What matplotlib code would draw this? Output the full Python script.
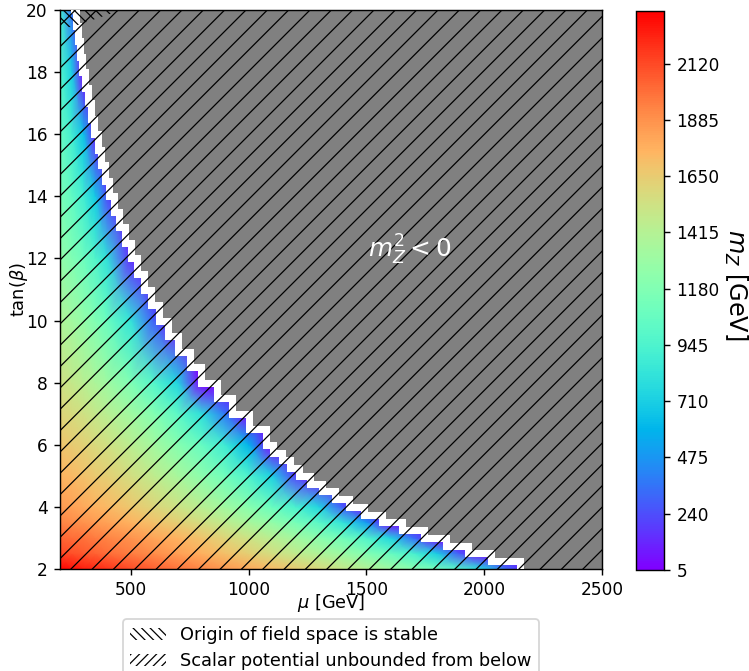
import numpy as np
import matplotlib
matplotlib.use('Agg')
import matplotlib.pyplot as plt
from matplotlib import cbook
from matplotlib.patches import Patch

plt.rcParams['hatch.linewidth'] = 0.7

# grid: mu columns [GeV], tan(beta) rows, m_Z values [GeV]
mu_cols = [200, 250, 300, 350, 400, 500, 600, 700, 800, 900, 1000, 1100,
           1200, 1300, 1400, 1500, 1600, 1700, 1800, 1900, 2000, 2100, 2200, 2500]
tanb_rows = [2, 2.5, 3, 3.5, 4, 5, 6, 7, 8, 10, 12, 14, 16, 18, 20]
mz = [
    [2330, 2290, 2255, 2220, 2190, 2120, 2055, 1990, 1925, 1860, 1795, 1725, 1655, 1580, 1500, 1415, 1320, 1215, 1095, 950, 740, 320, 5, 5],
    [2130, 2100, 2070, 2040, 2010, 1950, 1895, 1835, 1770, 1705, 1630, 1555, 1470, 1385, 1295, 1190, 1070, 920, 700, 260, 5, 5, 5, 5],
    [2030, 2010, 1985, 1960, 1930, 1880, 1820, 1760, 1690, 1610, 1525, 1435, 1335, 1225, 1105, 960, 750, 345, 5, 5, 5, 5, 5, 5],
    [1930, 1905, 1880, 1855, 1825, 1765, 1700, 1630, 1550, 1460, 1360, 1255, 1135, 1000, 820, 500, 5, 5, 5, 5, 5, 5, 5, 5],
    [1850, 1825, 1800, 1765, 1735, 1670, 1600, 1520, 1430, 1320, 1215, 1080, 935, 735, 280, 5, 5, 5, 5, 5, 5, 5, 5, 5],
    [1760, 1730, 1700, 1665, 1630, 1550, 1460, 1355, 1230, 1100, 940, 720, 210, 5, 5, 5, 5, 5, 5, 5, 5, 5, 5, 5],
    [1690, 1655, 1620, 1580, 1540, 1445, 1335, 1205, 1060, 880, 590, 5, 5, 5, 5, 5, 5, 5, 5, 5, 5, 5, 5, 5],
    [1610, 1570, 1530, 1485, 1435, 1320, 1190, 1015, 800, 370, 5, 5, 5, 5, 5, 5, 5, 5, 5, 5, 5, 5, 5, 5],
    [1530, 1485, 1435, 1380, 1315, 1170, 980, 740, 5, 5, 5, 5, 5, 5, 5, 5, 5, 5, 5, 5, 5, 5, 5, 5],
    [1390, 1330, 1260, 1175, 1080, 830, 290, 5, 5, 5, 5, 5, 5, 5, 5, 5, 5, 5, 5, 5, 5, 5, 5, 5],
    [1260, 1180, 1085, 965, 810, 150, 5, 5, 5, 5, 5, 5, 5, 5, 5, 5, 5, 5, 5, 5, 5, 5, 5, 5],
    [1150, 1040, 895, 685, 240, 5, 5, 5, 5, 5, 5, 5, 5, 5, 5, 5, 5, 5, 5, 5, 5, 5, 5, 5],
    [1060, 905, 650, 100, 5, 5, 5, 5, 5, 5, 5, 5, 5, 5, 5, 5, 5, 5, 5, 5, 5, 5, 5, 5],
    [980, 715, 5, 5, 5, 5, 5, 5, 5, 5, 5, 5, 5, 5, 5, 5, 5, 5, 5, 5, 5, 5, 5, 5],
    [910, 355, 5, 5, 5, 5, 5, 5, 5, 5, 5, 5, 5, 5, 5, 5, 5, 5, 5, 5, 5, 5, 5, 5],
]

# edge of the m_Z^2 < 0 region
tanb_edge = [2.0, 2.25, 2.5, 2.75, 3.0, 3.25, 3.5, 3.75, 4.0, 4.25, 4.5, 4.75, 5.0, 5.25,
             5.5, 5.75, 6.0, 6.5, 7.0, 7.5, 8.0, 8.5, 9.0, 9.5, 10.0, 10.5, 11.0, 11.5,
             12.0, 12.5, 13.0, 13.5, 14.0, 14.5, 15.0, 15.5, 16.0, 16.5, 17.0, 17.5,
             18.0, 18.5, 19.0, 19.5, 20.0]
mu_edge = [2150, 2030, 1930, 1840, 1745, 1650, 1565, 1490, 1425, 1365, 1310, 1260, 1215, 1175,
           1140, 1105, 1075, 1000, 930, 865, 800, 750, 700, 660, 620, 585, 555, 525,
           500, 475, 450, 430, 410, 392, 375, 360, 345, 332, 320, 307,
           295, 285, 275, 266, 258]

# region where the origin of field space is stable
stable_mu = [200, 250, 460]
stable_tanb = [19.45, 19.45, 20.0]

mu_range = [200, 2500]
tanb_range = [2, 20]
cbar_ticks = [5, 240, 475, 710, 945, 1180, 1415, 1650, 1885, 2120]
mz_lim = [5, 2340]

DPI = 128
W, H = 749, 671
fig = plt.figure(figsize=(W / DPI, H / DPI), dpi=DPI)
ax = fig.add_axes([60 / W, 102 / H, 542 / W, 559 / H])
cax = fig.add_axes([636 / W, 101 / H, 28 / W, 559 / H])

MU, TB = np.meshgrid(mu_cols, tanb_rows)
mesh = ax.pcolormesh(MU, TB, np.array(mz, dtype=float), shading='gouraud',
                     cmap='rainbow', vmin=mz_lim[0], vmax=mz_lim[1], zorder=1)

# m_Z^2 < 0 region with a white gap along its edge
ax.fill_betweenx(tanb_edge, mu_edge, mu_range[1], step='post',
                 color='gray', lw=0, zorder=2)
t_st, m_st = cbook.pts_to_poststep(tanb_edge, mu_edge)
ax.plot(m_st, t_st, color='white', lw=7 * 72 / DPI,
        solid_joinstyle='miter', zorder=3)

# hatching
ax.fill_between(mu_range, tanb_range[0], tanb_range[1], facecolor='none',
                edgecolor='black', hatch='//', lw=0, zorder=4)
ax.fill_between(stable_mu, stable_tanb, tanb_range[1], facecolor='none',
                edgecolor='black', hatch='\\' * 4, lw=0, zorder=4)

ax.text(1685, 12.27, r'$m_Z^2 < 0$', color='white', fontsize=14,
        ha='center', va='center', zorder=5)

ax.set_xlim(mu_range)
ax.set_ylim(tanb_range)
ax.set_yticks(np.arange(2, 21, 2))
ax.tick_params(labelsize=9.6)
ax.set_xlabel(r'$\mu$ [GeV]', va='center')
ax.set_ylabel(r'tan($\beta$)', va='center')
ax.xaxis.set_label_coords(0.5, -0.0615)
ax.yaxis.set_label_coords(-0.0756, 0.5)

cb = fig.colorbar(mesh, cax=cax, ticks=cbar_ticks)
cb.ax.tick_params(labelsize=9.6)
cb.set_label(r'$m_Z$ [GeV]', rotation=270, fontsize=13.5, va='center')
cax.yaxis.set_label_coords(3.56, 0.51)

handles = [
    Patch(facecolor='white', edgecolor='black', lw=0, hatch='\\' * 5,
          label='Origin of field space is stable'),
    Patch(facecolor='white', edgecolor='black', lw=0, hatch='/' * 5,
          label='Scalar potential unbounded from below'),
]
ax.legend(handles=handles, loc='upper center', bbox_to_anchor=(0.5, -0.0735),
          labelspacing=0.45)

fig.savefig('out.png', dpi=DPI)
